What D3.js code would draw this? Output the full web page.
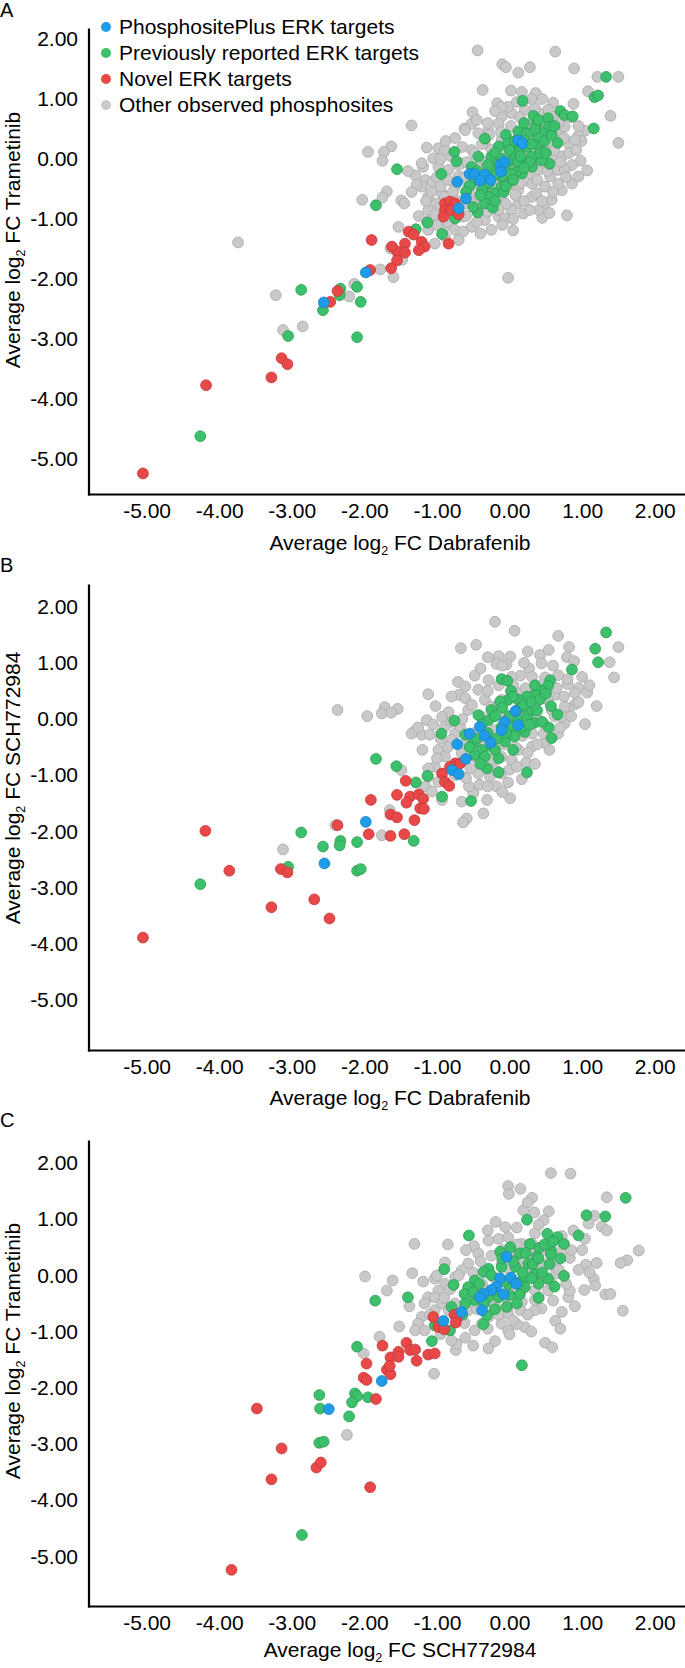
<!DOCTYPE html>
<html>
<head>
<meta charset="utf-8">
<script src="https://cdn.jsdelivr.net/npm/d3@7"></script>
<style>
  html, body { margin: 0; padding: 0; background: #fff; }
  svg { display: block; }
</style>
</head>
<body>
<svg id="chart" width="685" height="1668"></svg>
<script>
// ---------------- DATA ----------------
const tickValues = [-5, -4, -3, -2, -1, 0, 1, 2];
const legendLabels = ["PhosphositePlus ERK targets", "Previously reported ERK targets", "Novel ERK targets", "Other observed phosphosites"];
const panelLabels = ["A", "B", "C"];
const xTitles = ["Dabrafenib", "Dabrafenib", "SCH772984"];
const yTitles = ["Trametinib", "SCH772984", "Trametinib"];

// Panel A: x = Dabrafenib, y = Trametinib
const aGray = [[-0.44,1.81],[0.63,1.79],[-0.10,1.58],[-0.05,1.53],[0.28,1.53],[0.12,1.44],[0.89,1.51],[1.21,1.37],[1.50,1.37],[-0.37,1.15],[0.02,1.14],[0.17,1.12],[0.36,1.10],[1.08,1.13],[1.39,0.72],[-1.35,0.56],[-0.51,0.78],[-0.17,0.93],[0.60,0.94],[0.88,0.92],[-0.62,0.51],[-1.95,0.12],[-1.63,0.21],[-1.73,0.12],[-1.75,-0.03],[-1.14,0.19],[1.50,0.27],[1.04,0.47],[0.95,0.39],[0.99,0.30],[1.07,-0.19],[0.98,-0.03],[0.86,-0.10],[-2.03,-0.68],[-1.69,-0.54],[-1.75,-0.64],[-1.49,-0.69],[-1.45,-0.74],[-1.53,-1.13],[0.45,-0.98],[0.79,-0.94],[0.05,-1.19],[-0.40,-1.24],[-0.02,-1.98],[-1.78,-1.84],[-1.60,-1.97],[-1.64,-1.49],[-2.21,-2.29],[-2.14,-2.08],[-1.48,-1.68],[-3.74,-1.39],[-3.22,-2.27],[-3.12,-2.85],[-2.85,-2.79],
[-1.30,-0.27],[-1.19,-0.13],[-1.16,-0.35],[-1.05,0.01],[-0.98,0.18],[-0.89,0.15],[-0.80,0.04],[-1.06,-0.38],[-1.21,-0.46],[-0.93,-0.57],[-1.00,-0.74],[-0.89,-0.63],[-1.12,-0.85],[-1.03,-0.93],[-1.14,-1.04],[-0.89,-1.13],[-0.75,-1.18],[-0.64,-1.21],[-0.52,-1.13],[-0.66,-0.96],[-0.75,-0.85],[-0.15,-0.96],[-0.06,-0.99],[0.19,-0.91],[0.12,-0.74],[0.31,-0.63],[0.37,-0.57],[0.49,-0.46],[0.56,-0.29],[0.67,-0.18],[0.72,0.04],[0.81,0.26],[0.90,0.32],[0.67,0.43],[0.58,0.59],[0.76,0.54],[0.53,0.82],[0.40,0.76],[0.21,0.82],[0.03,0.76],[-0.11,0.71],[-0.15,0.59],[-0.29,0.48],[-0.43,0.43],[-0.52,0.59],[-0.61,0.48],[-0.34,0.26],[-0.11,0.32],[0.21,0.26],[0.49,0.21],[0.58,0.04],[0.40,-0.18],[0.31,-0.41],[0.12,-0.52],[-0.11,-0.63],[-0.25,-0.74],[-0.43,-0.63],[-0.57,-0.46],[-0.70,-0.29],[-0.84,-0.18],[-0.98,-0.13],[-0.66,-0.07],[0.12,0.04],[0.03,-0.18],[0.21,0.43],[0.44,0.48],[0.63,0.71],[-0.02,0.87],[-0.11,0.87],[0.49,-0.74],[0.58,-0.68],[0.72,-0.52],[0.86,-0.41],[0.03,-0.85],[-0.34,-1.02],[-0.25,-1.18],[-0.89,-1.29],[-1.12,-1.18],[-1.03,-1.41],
[-0.52,0.15],[-0.25,0.15],[0.31,0.32],[0.49,-0.07],[0.76,-0.18],[0.95,-0.29],[0.67,-0.41],[0.40,-0.85],[-0.43,-0.85],[-0.61,-0.74],[-0.34,-0.13],[-0.15,-0.29],[-1.21,-0.07],[-1.28,-0.43],[-0.75,-0.46],[-1.12,-0.63],
[-0.95,-0.45],[-0.85,-0.35],[-0.78,-0.55],[-0.70,-0.10],[-0.62,-0.30],[-0.58,-0.05],[-0.55,-0.55],[-0.48,0.10],[-0.45,-0.15],[-0.40,-0.45],[-0.38,0.25],[-0.33,-0.05],[-0.30,-0.88],[-0.28,0.40],[-0.22,-0.50],[-0.20,0.05],[-0.18,-0.40],[-0.12,0.45],[-0.08,0.15],[-0.05,-0.75],[-0.02,-0.45],[0.02,0.55],[0.06,0.30],[0.08,-0.60],[0.10,-0.05],[0.14,0.70],[0.16,-0.40],[0.22,0.10],[0.26,-0.25],[0.28,0.55],[0.33,-0.05],[0.35,0.85],[0.38,-0.35],[0.42,0.35],[0.45,0.05],[0.50,0.60],[0.52,-0.20],[0.55,0.30],[0.60,-0.55],[0.62,0.15],[0.68,0.60],[0.70,-0.05],[0.75,0.35],[0.78,-0.30],[0.82,0.10],[0.85,0.70],[0.92,0.15],[0.95,0.55],[-1.00,-0.30],[-1.08,-0.55],[-0.95,-0.80],[-0.85,-1.05],[-0.72,-0.70],[-0.60,-0.95],[-0.50,-0.75],[-0.45,-1.05],[-0.35,-0.60],[-0.15,-0.85],[-0.10,-1.10],[0.05,-1.00],[0.20,-0.70],[0.28,-0.85],[0.45,-0.70],[0.55,-0.90],[-0.95,0.00],[-0.88,0.30],[-0.75,0.35],[-0.65,0.20],[-0.45,0.65],[-0.30,0.60],[-0.20,0.80],[0.10,0.95],[0.30,1.00],[0.45,1.00],[-1.15,-0.70],[-1.25,-0.95],[-1.35,-0.55],[-1.40,-0.20],[-1.00,-1.10],[-0.70,-1.35]];
const aGreen = [[1.33,1.37],[1.17,1.03],[1.22,1.06],[1.16,0.51],[0.18,0.97],[0.33,0.72],[0.53,0.68],[0.70,0.80],[0.76,0.73],[0.87,0.71],[0.37,0.57],[0.54,0.54],[0.46,0.43],[0.12,0.46],[0.24,0.43],[0.39,0.37],[-0.34,0.34],[-0.05,0.40],[0.66,0.27],[-0.76,0.12],[-0.73,-0.04],[-1.55,-0.17],[-0.94,-0.25],[0.55,-0.08],[0.44,-0.02],[0.31,0.04],[0.19,-0.07],[0.12,0.15],[-0.02,0.26],[-0.15,0.21],[-0.25,0.04],[-0.43,0.04],[-0.52,-0.13],[-0.48,-0.35],[-0.34,-0.46],[-0.20,-0.57],[-0.11,-0.46],[0.03,-0.35],[0.17,-0.24],[0.31,-0.13],[-0.29,-0.63],[-0.34,-0.74],[-0.23,-0.81],[-0.44,-0.89],[-0.75,-0.99],[-1.13,-1.06],[-1.29,-1.17],[-1.84,-0.77],[-0.93,-1.25],[-0.06,-0.18],[-0.15,-0.07],[0.03,-0.02],[-0.11,-0.29],[-0.38,-0.52],[0.05,0.10],[0.25,0.20],[-0.05,-0.10],[0.10,-0.20],[-0.25,-0.20],[0.40,0.20],[-0.35,-0.30],[0.20,0.60],
[-0.55,-0.45],[-0.45,-0.20],[-0.40,-0.60],[-0.30,-0.10],[-0.28,-0.40],[-0.20,0.10],[-0.18,-0.25],[-0.10,0.00],[-0.08,-0.55],[0.00,0.15],[0.02,-0.25],[0.08,0.30],[0.12,-0.05],[0.15,0.05],[0.22,0.30],[0.28,-0.05],[0.30,0.25],[0.35,0.50],[0.42,0.10],[0.48,0.30],[0.50,0.10],[0.58,0.40],[0.62,0.55],[0.40,0.65],[-0.60,-0.55],[-0.50,-0.80],[-0.20,-0.70],[-0.05,-0.45],[0.05,-0.35],[0.20,-0.15],
[-2.10,-2.13],[-2.05,-2.38],[-2.10,-2.97],[-2.87,-2.18],[-2.33,-2.16],[-2.34,-2.27],[-2.57,-2.52],[-3.05,-2.95],[-4.26,-4.62]];
const aRed = [[-0.89,-0.74],[-0.82,-0.71],[-0.75,-0.74],[-0.89,-0.85],[-0.81,-0.85],[-0.70,-0.92],[-0.91,-0.96],[-0.84,-1.41],[-1.90,-1.35],[-1.39,-1.21],[-1.32,-1.26],[-1.21,-1.38],[-1.17,-1.46],[-1.25,-1.52],[-1.44,-1.41],[-1.55,-1.54],[-1.62,-1.46],[-1.44,-1.56],[-1.55,-1.69],[-1.63,-1.82],[-1.92,-1.85],[-2.37,-2.20],[-2.47,-2.38],[-3.14,-3.32],[-3.06,-3.42],[-3.28,-3.64],[-4.18,-3.77],[-5.05,-5.24]];
const aBlue = [[0.12,0.31],[0.18,0.26],[-0.12,-0.09],[-0.07,-0.05],[-0.12,-0.21],[-0.55,-0.25],[-0.48,-0.25],[-0.34,-0.26],[-0.41,-0.36],[-0.26,-0.35],[-0.72,-0.38],[-0.60,-0.66],[-0.70,-0.82],[-1.98,-1.89],[-2.56,-2.39]];

// Panel B: x = Dabrafenib, y = SCH772984
const bGray = [[-0.20,1.73],[0.07,1.57],[0.67,1.48],[-0.67,1.26],[-0.46,1.32],[1.50,1.28],[0.82,1.28],[-0.15,1.12],[0.01,1.11],[0.42,1.14],[0.54,1.23],[-0.18,0.98],[-0.04,0.97],[0.44,0.99],[0.79,1.10],[0.89,1.03],[1.38,1.01],[1.44,0.74],[0.27,0.90],[0.15,0.77],[-0.48,0.77],[-0.71,0.66],[-1.12,0.44],[-1.02,0.23],[-1.72,0.21],[-1.76,0.10],[-1.54,0.18],[-1.96,0.05],[-1.63,0.11],[-1.14,-0.02],[-1.30,-0.21],[-1.21,-0.28],[-1.10,-0.28],[-1.35,-0.26],[-1.26,-0.15],[-0.84,0.12],[-0.93,0.04],[1.20,0.23],[1.04,-0.09],[0.80,0.62],[0.95,0.55],[1.07,0.47],[0.90,0.46],[0.80,0.71],[0.67,0.78],[0.63,0.43],[0.90,0.26],[0.81,0.19],[0.76,-0.08],[-0.70,0.43],[-0.61,0.58],[-0.61,0.37],[-0.43,0.52],[-0.29,0.69],[-0.15,0.60],[0.03,0.75],[0.31,0.75],[0.49,0.74],[0.58,0.58],[0.40,0.49],[-0.89,-0.14],[-0.75,-0.26],[-0.98,-0.55],[-0.89,-0.67],[-1.03,-0.85],[-1.12,-1.03],[-1.16,-1.20],[-0.98,-1.12],[-1.07,-1.29],[-0.93,-1.44],[-0.66,-1.47],[-0.59,-1.77],[-0.64,-1.84],[-0.36,-1.68],[-0.31,-1.44],[-0.50,-1.32],[-0.56,-1.20],[-0.41,-1.17],[-0.18,-1.20],[-0.02,-1.13],[0.01,-1.41],[-0.11,-0.97],[-0.27,-1.03],[-0.43,-0.97],[-0.54,-0.88],[0.17,-1.07],[0.23,-0.77],[0.03,-0.73],[0.31,-0.49],[0.49,-0.43],[0.47,-0.26],[0.67,-0.26],[0.31,-0.26],[0.12,-0.55],[-0.11,-0.67],[-0.25,-0.73],[-0.80,-0.37],[-0.66,-0.61],[-0.68,-0.14],[-0.57,0.16],[-0.34,0.34],[-0.25,0.22],[-0.11,0.34],[0.12,0.46],[0.26,0.34],[0.58,0.16],[0.72,0.04],[0.40,-0.02],[0.76,0.22],[-1.12,-0.88],[-1.49,-0.91],[-1.76,-2.07],[-1.65,-1.62],[-2.37,0.16],[-3.12,-2.32],[-2.40,-1.89],
[-0.95,-0.35],[-0.85,-0.50],[-0.80,-0.05],[-0.72,-0.80],[-0.65,0.00],[-0.60,-0.45],[-0.52,0.25],[-0.48,-0.25],[-0.45,-0.70],[-0.40,0.05],[-0.35,-0.45],[-0.30,0.50],[-0.22,-0.20],[-0.20,-0.90],[-0.15,0.25],[-0.08,-0.45],[-0.05,0.05],[0.00,-0.90],[0.05,0.60],[0.08,-0.50],[0.12,0.10],[0.18,-0.30],[0.22,0.55],[0.25,-0.60],[0.30,0.00],[0.35,0.25],[0.38,-0.45],[0.45,0.60],[0.48,-0.10],[0.52,0.35],[0.55,-0.55],[0.62,0.05],[0.65,0.55],[0.70,-0.15],[0.75,0.40],[0.85,0.05],[0.95,0.30],[1.00,0.75],[1.10,0.60],[-1.05,-0.10],[-1.00,-0.70],[-1.20,-0.55],[-0.75,-1.00],[-0.60,-1.05],[-0.30,-1.20],[-0.10,-1.30],[0.10,-0.85],[0.35,-0.80],[-0.80,0.40],[-0.40,0.90],[-0.10,0.95],[0.20,1.00],[0.60,0.95],[0.25,1.20],[-0.30,1.10]];
const bGreen = [[-1.84,-0.71],[-1.56,-0.84],[-2.87,-2.02],[-2.57,-2.27],[-2.33,-2.17],[-2.34,-2.25],[-2.10,-2.19],[-3.05,-2.63],[-2.10,-2.70],[-2.05,-2.67],[-4.26,-2.94],[1.33,1.54],[1.18,1.25],[1.22,1.01],[0.86,0.88],[-0.11,0.71],[-0.03,0.68],[0.56,0.69],[0.53,0.59],[0.44,0.50],[0.35,0.44],[0.24,0.40],[0.12,0.34],[0.02,0.50],[-0.02,0.34],[-0.13,0.31],[-0.25,0.16],[-0.43,0.07],[-0.29,-0.02],[-0.11,-0.14],[0.03,-0.14],[0.12,-0.02],[0.24,0.04],[0.34,-0.07],[0.21,-0.23],[0.07,-0.31],[-0.06,-0.40],[-0.25,-0.49],[-0.38,-0.55],[-0.48,-0.64],[-0.34,-0.67],[-0.15,-0.70],[-0.31,-0.88],[-0.50,-0.43],[-0.61,-0.28],[-0.76,-0.03],[-0.94,-0.26],[0.57,0.23],[0.66,0.08],[0.54,-0.15],[0.58,-0.34],[0.24,-0.95],[-1.13,-1.01],[-1.29,-1.13],[-0.93,-1.38],[-0.53,-1.46],[-1.32,-2.17],[0.17,0.22],[0.31,0.16],
[-0.45,-0.35],[-0.38,-0.10],[-0.30,-0.25],[-0.20,0.05],[-0.18,-0.35],[-0.10,0.20],[-0.05,-0.25],[0.00,0.05],[0.05,-0.55],[0.10,0.15],[0.15,-0.15],[0.20,0.25],[0.28,-0.10],[0.30,0.30],[0.38,0.15],[0.42,0.35],[0.45,-0.05],[0.50,0.45],[-0.55,-0.50],[-0.20,-0.55],[-0.40,-0.80],[0.35,0.60],[0.05,0.40],[-0.15,-0.95]];
const bRed = [[-4.19,-1.99],[-3.86,-2.70],[-3.15,-2.67],[-3.06,-2.73],[-3.28,-3.35],[-2.69,-3.21],[-2.48,-3.55],[-5.05,-3.89],[-2.37,-1.89],[-1.91,-1.44],[-1.94,-2.05],[-1.64,-2.08],[-1.64,-1.70],[-1.55,-1.35],[-1.55,-1.75],[-0.75,-0.79],[-0.68,-0.79],[-0.82,-0.85],[-0.93,-0.97],[-0.89,-1.12],[-0.83,-1.19],[-1.43,-1.10],[-1.37,-1.38],[-1.42,-1.49],[-1.25,-1.34],[-1.19,-1.42],[-1.23,-1.59],[-1.18,-1.60],[-1.31,-1.80],[-1.45,-2.05]];
const bBlue = [[0.08,0.14],[0.12,-0.11],[-0.07,-0.05],[-0.11,-0.20],[-0.41,-0.14],[-0.55,-0.26],[-0.34,-0.30],[-0.26,-0.42],[-0.72,-0.45],[-0.60,-0.71],[-0.79,-0.91],[-0.70,-0.98],[-1.98,-1.83],[-2.55,-2.57]];

// Panel C: x = SCH772984, y = Trametinib
const cGray = [[-1.99,-0.02],[-1.61,-0.09],[-1.69,-0.27],[-1.52,-0.91],[-1.79,-1.09],[-2.01,-1.39],[-2.24,-2.84],[0.57,1.82],[0.84,1.81],[-0.02,1.59],[0.15,1.54],[-0.01,1.45],[0.31,1.38],[1.34,1.39],[0.19,1.16],[0.34,1.12],[0.54,1.14],[0.47,0.98],[-0.19,0.95],[-0.06,0.86],[1.17,1.06],[1.27,0.87],[1.34,0.80],[1.09,0.92],[1.04,0.65],[0.88,0.80],[-1.31,0.56],[-0.49,0.52],[-0.29,0.62],[-0.15,0.65],[-0.02,0.68],[-0.89,0.23],[-1.34,0.04],[-1.38,-0.55],[-1.19,-0.11],[-1.03,-0.06],[-1.12,-0.39],[-1.17,-0.50],[-1.21,-0.74],[-1.04,-1.75],[1.78,0.44],[1.62,0.27],[1.53,0.22],[1.20,0.22],[1.05,0.19],[0.83,0.31],[0.72,0.44],[0.63,0.27],[0.81,-0.39],[0.83,-0.27],[1.16,-0.06],[1.18,-0.18],[1.03,-0.26],[1.32,-0.34],[1.39,-0.33],[1.56,-0.63],[0.72,-0.65],[0.63,-0.81],[0.44,-0.59],[0.35,-0.62],[0.21,-0.92],[0.10,-0.87],[0.49,-1.20],[0.59,-1.28],[-0.20,-1.17],[-0.29,-1.30],[-0.74,-1.33],[-0.73,-1.22],[-0.61,-1.11],[-0.80,-1.16],[-0.48,-0.98],[-0.38,-0.86],[-0.11,-0.86],[-0.02,-0.68],[0.15,-0.62],[0.17,-0.47],[0.35,-0.44],[0.53,-0.27],[0.58,-0.15],[0.63,0.03],[0.44,0.21],[0.26,0.44],[0.17,0.56],[0.31,0.56],[-0.43,0.39],[-0.57,0.21],[-0.66,0.09],[-0.75,-0.03],[-0.89,-0.15],[-0.98,-0.27],[-1.03,-0.39],[-0.93,-0.50],[-0.84,-0.62],[-1.03,-0.62],[-1.26,-0.86],[-1.30,-0.98],[-1.17,-0.98],[-0.66,-0.74],[-0.57,-0.62],[-0.48,-0.39],[-0.38,-0.15],[-0.29,0.09],[-0.11,0.21],[0.08,0.33],[0.17,0.15],[-0.02,-0.27],[-0.20,-0.56],[-0.29,-0.74],[-0.02,-0.56],[0.35,-0.27],[0.44,-0.03],[-0.02,-0.98],
[-0.90,-0.40],[-0.82,-0.25],[-0.75,-0.50],[-0.70,0.00],[-0.62,-0.85],[-0.55,-0.40],[-0.50,0.05],[-0.45,-0.60],[-0.40,0.25],[-0.35,-0.25],[-0.30,-0.95],[-0.25,0.35],[-0.20,-0.05],[-0.15,-0.70],[-0.10,0.45],[-0.05,-0.40],[0.00,0.10],[0.05,-0.80],[0.10,0.55],[0.15,-0.30],[0.20,0.30],[0.25,-0.70],[0.30,0.05],[0.35,0.75],[0.40,-0.40],[0.45,0.45],[0.50,-0.05],[0.55,0.60],[0.60,-0.45],[0.68,0.10],[0.72,0.70],[0.78,-0.15],[0.85,0.45],[0.90,-0.55],[0.95,0.10],[1.00,0.45],[1.10,0.05],[0.40,0.90],[0.10,0.85],[-0.30,0.80],[-0.60,0.45],[-1.00,0.00],[-1.10,-0.70],[-0.95,-1.05],[-0.50,-1.25],[0.00,-1.05],[0.30,-1.00],[0.70,-0.95],[-0.85,0.55],[0.25,1.30]];
const cGreen = [[-1.85,-0.45],[-2.10,-1.27],[-2.62,-2.13],[-2.61,-2.37],[-2.13,-2.10],[-2.10,-2.15],[-2.17,-2.26],[-1.95,-2.17],[-2.21,-2.51],[-2.62,-2.98],[-2.56,-2.96],[-2.86,-4.62],[1.60,1.38],[1.06,1.07],[1.32,1.05],[0.24,0.99],[-0.56,0.71],[0.52,0.74],[0.66,0.68],[0.75,0.56],[0.95,0.71],[0.28,0.56],[0.41,0.49],[0.57,0.44],[0.57,0.37],[0.01,0.50],[-0.13,0.42],[0.14,0.39],[0.37,0.33],[0.26,0.21],[0.08,0.15],[-0.11,0.15],[-0.29,0.12],[-0.36,0.06],[-0.48,-0.09],[-0.57,-0.21],[-0.62,-0.33],[-0.48,-0.44],[-0.29,-0.39],[-0.15,-0.39],[-0.02,-0.15],[0.17,-0.09],[0.35,0.03],[0.53,-0.06],[0.40,-0.15],[0.21,-0.21],[0.14,-0.34],[-0.04,-0.56],[-0.31,-0.71],[-0.36,-0.87],[-0.61,-0.50],[-0.80,-0.56],[-0.77,-0.17],[-0.90,0.11],[-1.40,-0.39],[-0.82,-0.98],[-1.07,-1.17],[-1.03,-0.89],[0.75,-0.01],[0.17,-1.60],
[-0.50,-0.30],[-0.42,-0.15],[-0.35,-0.50],[-0.25,0.00],[-0.20,-0.25],[-0.10,0.30],[-0.08,-0.10],[0.00,-0.35],[0.05,0.25],[0.12,-0.15],[0.18,0.05],[0.22,0.40],[0.30,-0.05],[0.32,0.20],[0.40,0.30],[0.45,0.05],[0.48,0.55],[0.55,0.20],[0.60,0.60],[0.62,-0.20],[0.70,0.30],[-0.65,-0.70],[-0.20,-0.60],[0.10,-0.50],[0.40,-0.40]];
const cRed = [[-3.48,-2.37],[-3.14,-3.08],[-3.28,-3.63],[-2.66,-3.42],[-2.60,-3.33],[-1.92,-3.77],[-3.83,-5.24],[-1.97,-1.57],[-2.01,-1.82],[-1.97,-1.86],[-1.75,-1.25],[-1.84,-2.20],[-1.64,-1.46],[-1.69,-1.68],[-1.64,-1.76],[-1.65,-1.61],[-1.53,-1.36],[-1.05,-0.74],[-0.76,-0.70],[-0.73,-0.77],[-0.74,-0.84],[-0.98,-0.92],[-0.90,-0.96],[-1.42,-1.20],[-1.53,-1.45],[-1.37,-1.33],[-1.30,-1.32],[-1.28,-1.52],[-1.12,-1.41],[-1.03,-1.39]];
const cBlue = [[-0.04,0.33],[-0.13,-0.05],[0.02,-0.04],[0.09,-0.15],[-0.18,-0.20],[-0.25,-0.26],[-0.08,-0.34],[-0.36,-0.33],[-0.41,-0.39],[-0.38,-0.62],[-0.66,-0.65],[-0.91,-0.81],[-1.76,-1.88],[-2.49,-2.38]];

// ---------------- LAYOUT / STYLE ----------------
const FONT = "'Liberation Sans', Arial, Helvetica, sans-serif";
const COLORS = {
  blue:  {fill: "#1f9ce8", stroke: "#1a80c2"},
  green: {fill: "#3dc06b", stroke: "#2c9b53"},
  red:   {fill: "#e84848", stroke: "#c33636"},
  gray:  {fill: "#c9c9c9", stroke: "#a8a8a8"}
};
const legendKeys = ["blue", "green", "red", "gray"];

const panels = [
  {label: panelLabels[0], labelY: 17,   top: 29,   bottom: 494,  yDom: [-5.583, 2.167], yTitleC: 240, xTitleY: 550,
   series: {gray: aGray, green: aGreen, red: aRed, blue: aBlue}, legend: true, xTitle: xTitles[0], yTitle: yTitles[0]},
  {label: panelLabels[1], labelY: 572,  top: 585,  bottom: 1050, yDom: [-5.89, 2.384],  yTitleC: 788, xTitleY: 1105,
   series: {gray: bGray, green: bGreen, red: bRed, blue: bBlue}, legend: false, xTitle: xTitles[1], yTitle: yTitles[1]},
  {label: panelLabels[2], labelY: 1127, top: 1141, bottom: 1606, yDom: [-5.884, 2.391], yTitleC: 1351, xTitleY: 1657,
   series: {gray: cGray, green: cGreen, red: cRed, blue: cBlue}, legend: false, xTitle: xTitles[2], yTitle: yTitles[2]}
];

const svg = d3.select("#chart");
const left = 88.5, right = 685;
const x = d3.scaleLinear().domain([-5.8, 2.417]).range([left, right]);
const fmt = d => d.toFixed(2);

function titleText(sel, name) {
  sel.append("tspan").text("Average log");
  sel.append("tspan").attr("font-size", 12.5).attr("dy", 4.5).text("2");
  sel.append("tspan").attr("dy", -4.5).text(" FC " + name);
}

panels.forEach(p => {
  const y = d3.scaleLinear().domain(p.yDom).range([p.bottom, p.top]);
  const g = svg.append("g");

  g.append("text").attr("x", 0).attr("y", p.labelY)
    .attr("font-family", FONT).attr("font-size", 20).text(p.label);

  ["gray", "green", "red", "blue"].forEach(k => {
    g.append("g").selectAll("circle").data(p.series[k]).join("circle")
      .attr("cx", d => x(d[0])).attr("cy", d => y(d[1])).attr("r", 5.4)
      .attr("fill", COLORS[k].fill).attr("stroke", COLORS[k].stroke).attr("stroke-width", 0.8);
  });

  const xa = g.append("g").attr("transform", `translate(0,${p.bottom})`)
    .call(d3.axisBottom(x).tickValues(tickValues).tickSize(0).tickPadding(9.5).tickFormat(fmt));
  const ya = g.append("g").attr("transform", `translate(${left},0)`)
    .call(d3.axisLeft(y).tickValues(tickValues).tickSize(0).tickPadding(10.5).tickFormat(fmt));
  [xa, ya].forEach(a => {
    a.attr("font-family", FONT).attr("font-size", 21);
    a.select(".domain").attr("stroke", "#000").attr("stroke-width", 2.2).attr("stroke-linecap", "square");
    a.selectAll("text").attr("fill", "#000");
  });

  g.append("text").attr("x", 400).attr("y", p.xTitleY)
    .attr("text-anchor", "middle").attr("font-family", FONT).attr("font-size", 21)
    .call(titleText, p.xTitle);
  g.append("text").attr("transform", `translate(20,${p.yTitleC}) rotate(-90)`)
    .attr("text-anchor", "middle").attr("font-family", FONT).attr("font-size", 21)
    .call(titleText, p.yTitle);

  if (p.legend) {
    const lg = g.append("g");
    legendKeys.forEach((k, i) => {
      const yy = 27 + i * 26;
      lg.append("circle").attr("cx", 106).attr("cy", yy).attr("r", 5).attr("fill", COLORS[k].fill);
      lg.append("text").attr("x", 119).attr("y", yy).attr("dy", "0.35em")
        .attr("font-family", FONT).attr("font-size", 21).text(legendLabels[i]);
    });
  }
});
</script>
</body>
</html>
